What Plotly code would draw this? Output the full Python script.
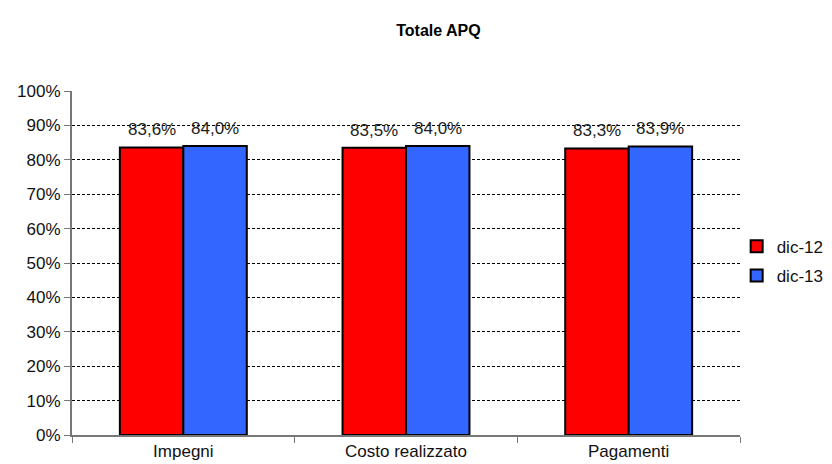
import plotly.graph_objects as go

categories = ["Impegni", "Costo realizzato", "Pagamenti"]
series_names = ["dic-12", "dic-13"]
dic12 = [0.836, 0.835, 0.833]
dic13 = [0.840, 0.840, 0.839]
colors = ["#FF0000", "#3366FF"]
tick_vals = [i / 10 for i in range(11)]
tick_text = [f"{i*10}%" for i in range(11)]

def fmt(v):
    return f"{v*100:.1f}%".replace(".", ",")

FONT = "Liberation Sans, Arial"

fig = go.Figure()
for name, vals, col in zip(series_names, [dic12, dic13], colors):
    fig.add_trace(go.Bar(
        x=categories, y=vals, name=name, legendgroup=name,
        marker=dict(color=col, line=dict(color="black", width=2)),
        hoverinfo="skip",
    ))

bargap = 0.43
bw = (1 - bargap) / 2
annotations = []
for s, vals in enumerate([dic12, dic13]):
    off = -bw / 2 if s == 0 else bw / 2
    for i, v in enumerate(vals):
        annotations.append(dict(
            x=i + off, y=v, xref="x", yref="y", text=fmt(v), showarrow=False,
            yanchor="bottom", yshift=6,
            font=dict(family=FONT, size=17, color="#222"),
        ))

fig.update_layout(
    width=832, height=464,
    margin=dict(l=72, r=92, t=91, b=29, autoexpand=False),
    paper_bgcolor="white", plot_bgcolor="white",
    barmode="group", bargap=bargap, bargroupgap=0,
    title=dict(text="<b>Totale APQ</b>", x=0.527, xanchor="center", y=0.935, yanchor="middle",
               font=dict(family=FONT, size=16, color="black")),
    font=dict(family=FONT, size=17, color="#111"),
    legend=dict(x=0.995, xanchor="left", y=0.505, yanchor="middle", tracegroupgap=4,
                font=dict(size=17, color="#111"), bgcolor="rgba(0,0,0,0)"),
    annotations=annotations,
    showlegend=True,
)
fig.update_yaxes(
    range=[0, 1], tickvals=tick_vals, ticktext=tick_text,
    showgrid=True, gridcolor="black", gridwidth=1, griddash="3px,2px",
    showline=True, linecolor="#777", linewidth=2,
    ticks="outside", ticklen=6, tickcolor="#777", zeroline=False,
    tickfont=dict(size=17),
)
fig.update_xaxes(
    showline=True, linecolor="#777", linewidth=2,
    ticks="outside", tickson="boundaries", ticklen=6, tickcolor="#777",
    tickfont=dict(size=17),
)
fig.write_html("out.html", config={"displayModeBar": False},
               post_script="document.body.style.margin='0';")
